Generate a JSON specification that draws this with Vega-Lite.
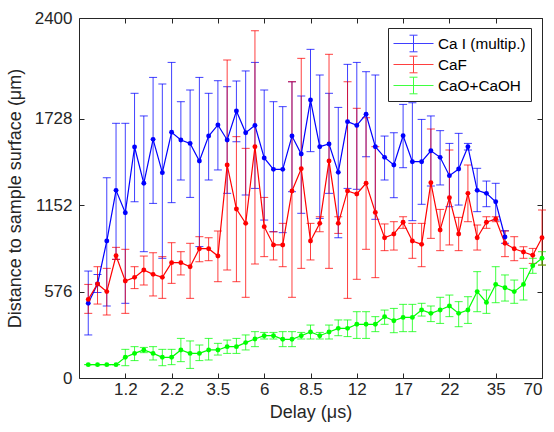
{
  "$schema": "https://vega.github.io/schema/vega-lite/v6.json",
  "width": 463,
  "height": 360,
  "autosize": {"type": "none"},
  "padding": {"left": 79, "top": 18, "right": 12, "bottom": 54},
  "background": "white",
  "config": {
    "view": {"stroke": null},
    "font": "Liberation Sans",
    "axis": {
      "grid": false,
      "domainColor": "#262626",
      "domainWidth": 1,
      "tickColor": "#262626",
      "tickWidth": 1,
      "tickSize": -5,
      "labelFont": "Liberation Sans",
      "labelFontSize": 17,
      "labelColor": "#262626",
      "titleFont": "Liberation Sans",
      "titleFontSize": 18,
      "titleFontWeight": "normal",
      "titleColor": "#262626"
    },
    "legend": {
      "strokeColor": "#262626",
      "fillColor": "white",
      "padding": 5,
      "labelFont": "Liberation Sans",
      "labelFontSize": 15.3,
      "labelColor": "black",
      "labelOffset": 24,
      "symbolType": "M-1,0H3M1,-0.83V0.83M0.6,-0.83H1.4M0.6,0.83H1.4",
      "symbolSize": 400,
      "symbolStrokeWidth": 1,
      "symbolFillColor": "transparent",
      "rowPadding": -1
    }
  },
  "datasets": {
    "pts": [
      {"s": "Ca I (multip.)", "x": 1, "v": 498, "lo": 287, "hi": 713},
      {"s": "Ca I (multip.)", "x": 2, "v": 627, "lo": 570, "hi": 690},
      {"s": "Ca I (multip.)", "x": 3, "v": 913, "lo": 480, "hi": 1335},
      {"s": "Ca I (multip.)", "x": 4, "v": 1251, "lo": 791, "hi": 1698},
      {"s": "Ca I (multip.)", "x": 5, "v": 1102, "lo": 498, "hi": 1698},
      {"s": "Ca I (multip.)", "x": 6, "v": 1540, "lo": 1175, "hi": 1898},
      {"s": "Ca I (multip.)", "x": 7, "v": 1298, "lo": 842, "hi": 1747},
      {"s": "Ca I (multip.)", "x": 8, "v": 1591, "lo": 1164, "hi": 2004},
      {"s": "Ca I (multip.)", "x": 9, "v": 1369, "lo": 798, "hi": 1960},
      {"s": "Ca I (multip.)", "x": 10, "v": 1638, "lo": 1169, "hi": 2104},
      {"s": "Ca I (multip.)", "x": 11, "v": 1587, "lo": 1320, "hi": 1842},
      {"s": "Ca I (multip.)", "x": 12, "v": 1564, "lo": 1204, "hi": 1920},
      {"s": "Ca I (multip.)", "x": 13, "v": 1447, "lo": 876, "hi": 2004},
      {"s": "Ca I (multip.)", "x": 14, "v": 1613, "lo": 1320, "hi": 1898},
      {"s": "Ca I (multip.)", "x": 15, "v": 1687, "lo": 1387, "hi": 1982},
      {"s": "Ca I (multip.)", "x": 16, "v": 1587, "lo": 1231, "hi": 1942},
      {"s": "Ca I (multip.)", "x": 17, "v": 1780, "lo": 1575, "hi": 1980},
      {"s": "Ca I (multip.)", "x": 18, "v": 1635, "lo": 1220, "hi": 2047},
      {"s": "Ca I (multip.)", "x": 19, "v": 1684, "lo": 1264, "hi": 2104},
      {"s": "Ca I (multip.)", "x": 20, "v": 1467, "lo": 1053, "hi": 1920},
      {"s": "Ca I (multip.)", "x": 21, "v": 1391, "lo": 975, "hi": 1842},
      {"s": "Ca I (multip.)", "x": 22, "v": 1391, "lo": 969, "hi": 1809},
      {"s": "Ca I (multip.)", "x": 23, "v": 1613, "lo": 1242, "hi": 1975},
      {"s": "Ca I (multip.)", "x": 24, "v": 1493, "lo": 1098, "hi": 1880},
      {"s": "Ca I (multip.)", "x": 25, "v": 1853, "lo": 1509, "hi": 2191},
      {"s": "Ca I (multip.)", "x": 26, "v": 1542, "lo": 1064, "hi": 2020},
      {"s": "Ca I (multip.)", "x": 27, "v": 1560, "lo": 1231, "hi": 1898},
      {"s": "Ca I (multip.)", "x": 28, "v": 1371, "lo": 935, "hi": 1804},
      {"s": "Ca I (multip.)", "x": 29, "v": 1709, "lo": 1264, "hi": 2091},
      {"s": "Ca I (multip.)", "x": 30, "v": 1684, "lo": 1258, "hi": 2104},
      {"s": "Ca I (multip.)", "x": 31, "v": 1758, "lo": 1475, "hi": 2042},
      {"s": "Ca I (multip.)", "x": 32, "v": 1542, "lo": 1058, "hi": 2020},
      {"s": "Ca I (multip.)", "x": 33, "v": 1471, "lo": 1320, "hi": 1613},
      {"s": "Ca I (multip.)", "x": 34, "v": 1420, "lo": 1202, "hi": 1635},
      {"s": "Ca I (multip.)", "x": 35, "v": 1615, "lo": 1402, "hi": 1824},
      {"s": "Ca I (multip.)", "x": 36, "v": 1442, "lo": 1049, "hi": 1835},
      {"s": "Ca I (multip.)", "x": 37, "v": 1442, "lo": 1158, "hi": 1724},
      {"s": "Ca I (multip.)", "x": 38, "v": 1515, "lo": 1280, "hi": 1747},
      {"s": "Ca I (multip.)", "x": 39, "v": 1471, "lo": 1287, "hi": 1649},
      {"s": "Ca I (multip.)", "x": 40, "v": 1349, "lo": 1142, "hi": 1564},
      {"s": "Ca I (multip.)", "x": 41, "v": 1393, "lo": 1153, "hi": 1631},
      {"s": "Ca I (multip.)", "x": 42, "v": 1542, "lo": 1520, "hi": 1564},
      {"s": "Ca I (multip.)", "x": 43, "v": 1251, "lo": 1109, "hi": 1398},
      {"s": "Ca I (multip.)", "x": 44, "v": 1231, "lo": 1142, "hi": 1313},
      {"s": "Ca I (multip.)", "x": 45, "v": 1175, "lo": 1053, "hi": 1298},
      {"s": "Ca I (multip.)", "x": 46, "v": 940, "lo": 898, "hi": 982},
      {"s": "CaF", "x": 1, "v": 524, "lo": 431, "hi": 624},
      {"s": "CaF", "x": 2, "v": 627, "lo": 493, "hi": 742},
      {"s": "CaF", "x": 3, "v": 576, "lo": 420, "hi": 731},
      {"s": "CaF", "x": 4, "v": 815, "lo": 791, "hi": 871},
      {"s": "CaF", "x": 5, "v": 647, "lo": 431, "hi": 858},
      {"s": "CaF", "x": 6, "v": 671, "lo": 596, "hi": 742},
      {"s": "CaF", "x": 7, "v": 720, "lo": 620, "hi": 813},
      {"s": "CaF", "x": 8, "v": 691, "lo": 547, "hi": 835},
      {"s": "CaF", "x": 9, "v": 671, "lo": 531, "hi": 809},
      {"s": "CaF", "x": 10, "v": 769, "lo": 631, "hi": 902},
      {"s": "CaF", "x": 11, "v": 769, "lo": 687, "hi": 842},
      {"s": "CaF", "x": 12, "v": 742, "lo": 531, "hi": 898},
      {"s": "CaF", "x": 13, "v": 862, "lo": 775, "hi": 942},
      {"s": "CaF", "x": 14, "v": 862, "lo": 782, "hi": 935},
      {"s": "CaF", "x": 15, "v": 813, "lo": 642, "hi": 980},
      {"s": "CaF", "x": 16, "v": 1420, "lo": 720, "hi": 2120},
      {"s": "CaF", "x": 17, "v": 1127, "lo": 642, "hi": 1609},
      {"s": "CaF", "x": 18, "v": 1031, "lo": 538, "hi": 1531},
      {"s": "CaF", "x": 19, "v": 1542, "lo": 760, "hi": 2315},
      {"s": "CaF", "x": 20, "v": 1009, "lo": 809, "hi": 1204},
      {"s": "CaF", "x": 21, "v": 887, "lo": 787, "hi": 975},
      {"s": "CaF", "x": 22, "v": 887, "lo": 742, "hi": 1031},
      {"s": "CaF", "x": 23, "v": 1247, "lo": 538, "hi": 1975},
      {"s": "CaF", "x": 24, "v": 1395, "lo": 731, "hi": 2131},
      {"s": "CaF", "x": 25, "v": 913, "lo": 787, "hi": 1031},
      {"s": "CaF", "x": 26, "v": 1031, "lo": 975, "hi": 1075},
      {"s": "CaF", "x": 27, "v": 1447, "lo": 731, "hi": 2158},
      {"s": "CaF", "x": 28, "v": 1031, "lo": 964, "hi": 1075},
      {"s": "CaF", "x": 29, "v": 1247, "lo": 531, "hi": 1975},
      {"s": "CaF", "x": 30, "v": 1227, "lo": 658, "hi": 1798},
      {"s": "CaF", "x": 31, "v": 1298, "lo": 858, "hi": 1735},
      {"s": "CaF", "x": 32, "v": 1104, "lo": 669, "hi": 1542},
      {"s": "CaF", "x": 33, "v": 935, "lo": 849, "hi": 1027},
      {"s": "CaF", "x": 34, "v": 960, "lo": 853, "hi": 1042},
      {"s": "CaF", "x": 35, "v": 1038, "lo": 998, "hi": 1075},
      {"s": "CaF", "x": 36, "v": 913, "lo": 798, "hi": 1031},
      {"s": "CaF", "x": 37, "v": 891, "lo": 742, "hi": 1031},
      {"s": "CaF", "x": 38, "v": 1302, "lo": 931, "hi": 1660},
      {"s": "CaF", "x": 39, "v": 987, "lo": 849, "hi": 1124},
      {"s": "CaF", "x": 40, "v": 1202, "lo": 887, "hi": 1520},
      {"s": "CaF", "x": 41, "v": 960, "lo": 849, "hi": 1071},
      {"s": "CaF", "x": 42, "v": 1231, "lo": 1042, "hi": 1420},
      {"s": "CaF", "x": 43, "v": 935, "lo": 853, "hi": 1020},
      {"s": "CaF", "x": 44, "v": 1038, "lo": 998, "hi": 1075},
      {"s": "CaF", "x": 45, "v": 1060, "lo": 1042, "hi": 1075},
      {"s": "CaF", "x": 46, "v": 898, "lo": 809, "hi": 980},
      {"s": "CaF", "x": 47, "v": 862, "lo": 782, "hi": 942},
      {"s": "CaF", "x": 48, "v": 840, "lo": 798, "hi": 875},
      {"s": "CaF", "x": 49, "v": 818, "lo": 764, "hi": 864},
      {"s": "CaF", "x": 50, "v": 935, "lo": 753, "hi": 1120},
      {"s": "CaO+CaOH", "x": 1, "v": 89, "lo": 89, "hi": 89},
      {"s": "CaO+CaOH", "x": 2, "v": 89, "lo": 89, "hi": 89},
      {"s": "CaO+CaOH", "x": 3, "v": 89, "lo": 89, "hi": 89},
      {"s": "CaO+CaOH", "x": 4, "v": 89, "lo": 89, "hi": 89},
      {"s": "CaO+CaOH", "x": 5, "v": 138, "lo": 82, "hi": 191},
      {"s": "CaO+CaOH", "x": 6, "v": 164, "lo": 116, "hi": 209},
      {"s": "CaO+CaOH", "x": 7, "v": 187, "lo": 169, "hi": 204},
      {"s": "CaO+CaOH", "x": 8, "v": 164, "lo": 120, "hi": 209},
      {"s": "CaO+CaOH", "x": 9, "v": 138, "lo": 82, "hi": 191},
      {"s": "CaO+CaOH", "x": 10, "v": 138, "lo": 89, "hi": 191},
      {"s": "CaO+CaOH", "x": 11, "v": 187, "lo": 109, "hi": 264},
      {"s": "CaO+CaOH", "x": 12, "v": 164, "lo": 64, "hi": 247},
      {"s": "CaO+CaOH", "x": 13, "v": 164, "lo": 116, "hi": 220},
      {"s": "CaO+CaOH", "x": 14, "v": 187, "lo": 120, "hi": 264},
      {"s": "CaO+CaOH", "x": 15, "v": 187, "lo": 153, "hi": 231},
      {"s": "CaO+CaOH", "x": 16, "v": 209, "lo": 164, "hi": 253},
      {"s": "CaO+CaOH", "x": 17, "v": 209, "lo": 164, "hi": 264},
      {"s": "CaO+CaOH", "x": 18, "v": 236, "lo": 187, "hi": 287},
      {"s": "CaO+CaOH", "x": 19, "v": 260, "lo": 209, "hi": 309},
      {"s": "CaO+CaOH", "x": 20, "v": 282, "lo": 260, "hi": 304},
      {"s": "CaO+CaOH", "x": 21, "v": 282, "lo": 260, "hi": 304},
      {"s": "CaO+CaOH", "x": 22, "v": 258, "lo": 209, "hi": 309},
      {"s": "CaO+CaOH", "x": 23, "v": 258, "lo": 209, "hi": 309},
      {"s": "CaO+CaOH", "x": 24, "v": 282, "lo": 260, "hi": 304},
      {"s": "CaO+CaOH", "x": 25, "v": 307, "lo": 260, "hi": 353},
      {"s": "CaO+CaOH", "x": 26, "v": 282, "lo": 260, "hi": 304},
      {"s": "CaO+CaOH", "x": 27, "v": 307, "lo": 260, "hi": 353},
      {"s": "CaO+CaOH", "x": 28, "v": 331, "lo": 282, "hi": 387},
      {"s": "CaO+CaOH", "x": 29, "v": 331, "lo": 276, "hi": 387},
      {"s": "CaO+CaOH", "x": 30, "v": 358, "lo": 264, "hi": 442},
      {"s": "CaO+CaOH", "x": 31, "v": 358, "lo": 264, "hi": 442},
      {"s": "CaO+CaOH", "x": 32, "v": 358, "lo": 309, "hi": 409},
      {"s": "CaO+CaOH", "x": 33, "v": 409, "lo": 358, "hi": 453},
      {"s": "CaO+CaOH", "x": 34, "v": 382, "lo": 302, "hi": 464},
      {"s": "CaO+CaOH", "x": 35, "v": 404, "lo": 309, "hi": 491},
      {"s": "CaO+CaOH", "x": 36, "v": 404, "lo": 309, "hi": 491},
      {"s": "CaO+CaOH", "x": 37, "v": 453, "lo": 413, "hi": 498},
      {"s": "CaO+CaOH", "x": 38, "v": 431, "lo": 376, "hi": 480},
      {"s": "CaO+CaOH", "x": 39, "v": 453, "lo": 364, "hi": 538},
      {"s": "CaO+CaOH", "x": 40, "v": 480, "lo": 409, "hi": 553},
      {"s": "CaO+CaOH", "x": 41, "v": 431, "lo": 342, "hi": 509},
      {"s": "CaO+CaOH", "x": 42, "v": 453, "lo": 364, "hi": 542},
      {"s": "CaO+CaOH", "x": 43, "v": 576, "lo": 442, "hi": 709},
      {"s": "CaO+CaOH", "x": 44, "v": 504, "lo": 431, "hi": 587},
      {"s": "CaO+CaOH", "x": 45, "v": 624, "lo": 502, "hi": 742},
      {"s": "CaO+CaOH", "x": 46, "v": 602, "lo": 513, "hi": 687},
      {"s": "CaO+CaOH", "x": 47, "v": 576, "lo": 498, "hi": 653},
      {"s": "CaO+CaOH", "x": 48, "v": 624, "lo": 520, "hi": 731},
      {"s": "CaO+CaOH", "x": 49, "v": 749, "lo": 698, "hi": 798},
      {"s": "CaO+CaOH", "x": 50, "v": 798, "lo": 753, "hi": 842}
    ]
  },
  "data": {"name": "pts"},
  "resolve": {"axis": {"x": "independent", "y": "independent"}},
  "layer": [
    {
      "mark": {"type": "errorbar", "ticks": {"size": 8, "thickness": 1}, "rule": {"strokeWidth": 1}, "opacity": 0.75},
      "encoding": {
        "x": {"field": "x", "type": "quantitative", "scale": {"domain": [0, 50], "nice": false, "zero": false},
          "axis": {"orient": "bottom", "values": [5, 10, 15, 20, 25, 30, 35, 40, 45, 50],
            "labelExpr": "['1.2','2.2','3.5','6','8.5','12','17','22','35','70'][round(datum.value/5)-1]",
            "title": "Delay (μs)", "labelPadding": 8, "titlePadding": 6}},
        "y": {"field": "lo", "type": "quantitative", "scale": {"domain": [0, 2400], "nice": false},
          "axis": {"orient": "left", "values": [0, 576, 1152, 1728, 2400], "format": "d", "title": "Distance to sample surface (μm)",
            "labelPadding": 12, "titlePadding": 10}},
        "y2": {"field": "hi"},
        "color": {"field": "s", "type": "nominal",
          "scale": {"domain": ["Ca I (multip.)", "CaF", "CaO+CaOH"], "range": ["#0000ff", "#ff0000", "#00ff00"]},
          "legend": {"title": null, "orient": "none", "legendX": 309, "legendY": 10, "labelExpr": "datum.label + ' '"}}
      }
    },
    {
      "mark": {"type": "line", "strokeWidth": 1.2},
      "encoding": {
        "x": {"field": "x", "type": "quantitative",
          "axis": {"orient": "top", "values": [5, 10, 15, 20, 25, 30, 35, 40, 45, 50], "labels": false, "title": null}},
        "y": {"field": "v", "type": "quantitative",
          "axis": {"orient": "right", "values": [0, 576, 1152, 1728, 2400], "labels": false, "title": null}},
        "color": {"field": "s", "type": "nominal"}
      }
    },
    {
      "mark": {"type": "point", "filled": true, "size": 24, "opacity": 1},
      "encoding": {
        "x": {"field": "x", "type": "quantitative", "axis": null},
        "y": {"field": "v", "type": "quantitative", "axis": null},
        "color": {"field": "s", "type": "nominal"}
      }
    }
  ]
}
